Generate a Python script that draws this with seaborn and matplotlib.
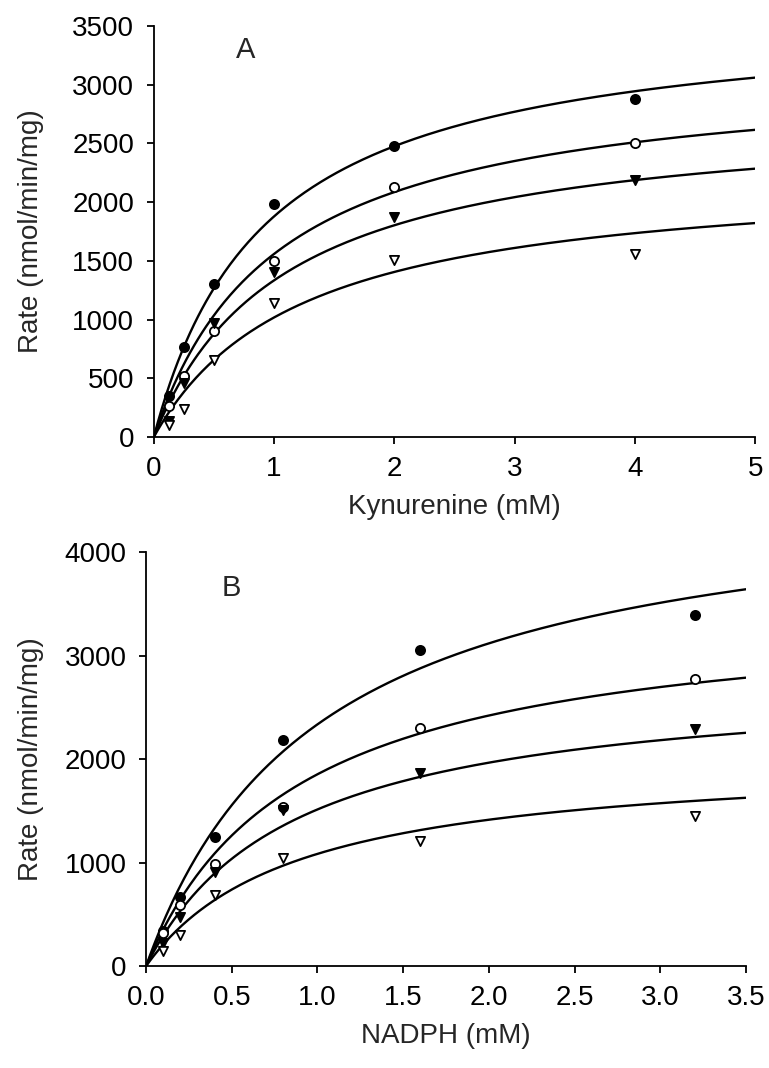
import numpy as np
import pandas as pd
import matplotlib
matplotlib.use("Agg")
import matplotlib.pyplot as plt
import seaborn as sns

# panel A - kynurenine
kyn_x = [0.125, 0.25, 0.5, 1, 2, 4]
kyn_filled_circle = [349, 763, 1307, 1987, 2477, 2883]
kyn_open_circle = [264, 519, 904, 1499, 2129, 2503]
kyn_filled_tri = [140, 462, 972, 1406, 1873, 2191]
kyn_open_tri = [100, 236, 655, 1142, 1511, 1562]
kyn_vmax = [3632, 3150, 2781, 2270]
kyn_km = [0.933, 1.020, 1.084, 1.229]

# panel B - NADPH
nadph_x = [0.1, 0.2, 0.4, 0.8, 1.6, 3.2]
nadph_filled_circle = [340, 667, 1250, 2184, 3053, 3391]
nadph_open_circle = [322, 593, 981, 1540, 2297, 2773]
nadph_filled_tri = [225, 474, 908, 1510, 1868, 2287]
nadph_open_tri = [148, 300, 686, 1040, 1211, 1449]
nadph_vmax = [4689, 3489, 2802, 2032]
nadph_km = [1.008, 0.883, 0.852, 0.875]

series_names = ["filled circle", "open circle", "filled tri", "open tri"]
marker_styles = [("o", "black"), ("o", "white"), ("v", "black"), ("v", "white")]

sns.set_style("ticks")
plt.rcParams['font.family'] = ['Liberation Sans', 'DejaVu Sans']
plt.rcParams['font.size'] = 20

fig = plt.figure(figsize=(7.69, 10.68), dpi=100)
axA = fig.add_axes([0.200, 0.5908, 0.782, 0.3848])
axB = fig.add_axes([0.190, 0.0955, 0.780, 0.3876])


def draw_panel(ax, x, ys, vmax, km, xmax):
    grid = np.linspace(0, xmax, 300)
    for i, name in enumerate(series_names):
        curve = pd.DataFrame({"x": grid, "rate": vmax[i] * grid / (km[i] + grid)})
        sns.lineplot(data=curve, x="x", y="rate", ax=ax, color="black", lw=1.7)
    for i, name in enumerate(series_names):
        pts = pd.DataFrame({"x": x, "rate": ys[i]})
        m, fc = marker_styles[i]
        sns.scatterplot(data=pts, x="x", y="rate", ax=ax, marker=m, color=fc,
                        edgecolor="black", linewidth=1.3, s=44, zorder=5)


draw_panel(axA, kyn_x,
           [kyn_filled_circle, kyn_open_circle, kyn_filled_tri, kyn_open_tri],
           kyn_vmax, kyn_km, 5)
draw_panel(axB, nadph_x,
           [nadph_filled_circle, nadph_open_circle, nadph_filled_tri, nadph_open_tri],
           nadph_vmax, nadph_km, 3.5)

axA.set_xlim(0, 5)
axA.set_ylim(0, 3500)
axA.set_xticks(range(0, 6))
axA.set_yticks(range(0, 3501, 500))
axA.set_xlabel("Kynurenine (mM)", labelpad=8)
axA.set_ylabel("Rate (nmol/min/mg)")
axA.yaxis.set_label_coords(-0.183, 0.5)
axA.text(0.76, 3300, "A", fontsize=21, ha="center", va="center")

axB.set_xlim(0, 3.5)
axB.set_ylim(0, 4000)
axB.set_xticks(np.arange(0, 3.51, 0.5))
axB.set_xticklabels([f"{v:.1f}" for v in np.arange(0, 3.51, 0.5)])
axB.set_yticks(range(0, 4001, 1000))
axB.set_xlabel("NADPH (mM)", labelpad=8)
axB.set_ylabel("Rate (nmol/min/mg)")
axB.yaxis.set_label_coords(-0.17, 0.5)
axB.text(0.50, 3650, "B", fontsize=21, ha="center", va="center")

for ax in (axA, axB):
    sns.despine(ax=ax)
    for s in ("left", "bottom"):
        ax.spines[s].set_linewidth(1.3)
        ax.spines[s].set_color("black")
    ax.tick_params(direction="out", length=5, width=1.3, pad=9, colors="black",
                   labelsize=20)
    ax.grid(False)

fig.savefig("out.png", dpi=100)
